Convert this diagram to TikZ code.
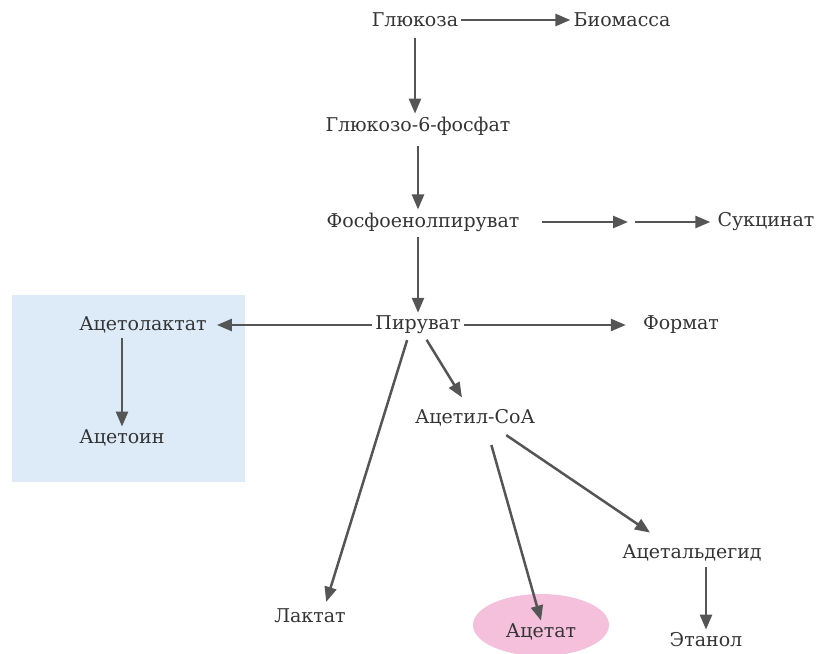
\documentclass[tikz,border=0pt]{standalone}
\usepackage{fontspec}
\newfontfamily\metfont{DejaVu Serif}
\usetikzlibrary{arrows.meta}
\definecolor{arrgray}{RGB}{85,85,85}
\definecolor{txtgray}{RGB}{52,52,52}
\definecolor{boxblue}{RGB}{221,235,249}
\definecolor{ellpink}{RGB}{244,192,220}
\begin{document}
\begin{tikzpicture}[x=1pt,y=-1pt,
    met/.style={text=txtgray,inner sep=3pt,font=\metfont\fontsize{19}{23}\selectfont},
    arr/.style={draw=arrgray,line width=2.5pt,-{Triangle[length=15pt,width=12pt]}}]
    \useasboundingbox (0,0) rectangle (829,653);
    % shaded areas
    \fill[boxblue] (12,295) rectangle (245,482);
    \fill[ellpink] (541,625) ellipse [x radius=68,y radius=31];
    % metabolites
    \node[met] (glc)  at (415,20)  {Глюкоза};
    \node[met] (bio)  at (622,20)  {Биомасса};
    \node[met] (g6p)  at (418,126) {Глюкозо-6-фосфат};
    \node[met] (pep)  at (423,222) {Фосфоенолпируват};
    \node[met] (suc)  at (766,222) {Сукцинат};
    \coordinate (pepmid) at (631,222);
    \node[met] (pyr)  at (418,325) {Пируват};
    \node[met] (alac) at (143,325) {Ацетолактат};
    \node[met] (acn)  at (122,438) {Ацетоин};
    \node[met] (form) at (681,325) {Формат};
    \node[met] (acoa) at (475,418) {Ацетил-СоА};
    \node[met] (lac)  at (310,616) {Лактат};
    \node[met] (ace)  at (541,632) {Ацетат};
    \node[met] (ald)  at (692,553) {Ацетальдегид};
    \node[met] (eth)  at (706,640) {Этанол};
    % reactions
    \draw[arr] (glc) -- (bio);
    \draw[arr,shorten <=8pt] (glc.south) -- (glc.south |- g6p.north);
    \draw[arr,shorten <=8pt] (g6p.south) -- (g6p.south |- pep.north);
    \draw[arr,shorten <=19pt,shorten >=3pt] (pep) -- (pepmid);
    \draw[arr,shorten <=4pt,shorten >=4pt] (pepmid) -- (suc);
    \draw[arr,shorten <=2pt] (pyr.north |- pep.south) -- (pyr.north);
    \draw[arr,shorten >=7pt] (pyr) -- (alac);
    \draw[arr,shorten >=14pt] (pyr) -- (form);
    \draw[arr,shorten <=2pt] (acn.north |- alac.south) -- (acn.north);
    \draw[arr,shorten <=3pt] ([xshift=7pt]pyr.south) -- ([xshift=-13pt,yshift=9pt]acoa.north);
    \draw[arr,shorten <=3pt,shorten >=4pt] ([xshift=-10pt]pyr.south) -- ([xshift=15pt]lac.north);
    \draw[arr,shorten <=16pt] ([xshift=12pt]acoa.south) -- (ace.north);
    \draw[arr,shorten <=10pt] ([xshift=23pt]acoa.south) -- ([xshift=-42pt,yshift=9pt]ald.north);
    \draw[arr,shorten <=3pt] (eth.north |- ald.south) -- (eth.north);
\end{tikzpicture}
\end{document}
